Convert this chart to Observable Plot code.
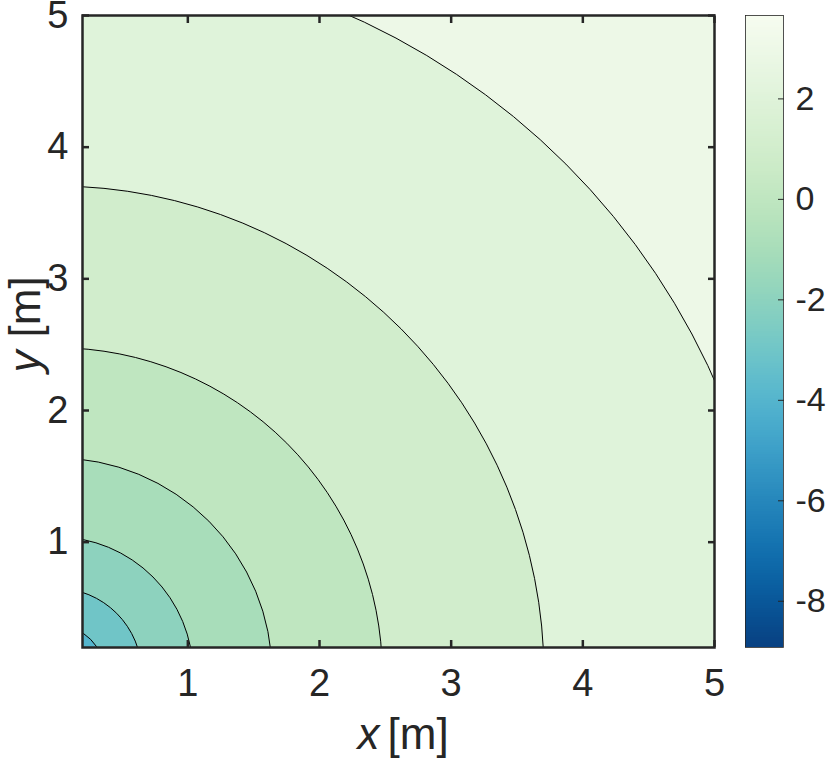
<!DOCTYPE html>
<html>
<head>
<meta charset="utf-8">
<script src="https://cdn.jsdelivr.net/npm/d3@7"></script>
<script src="https://cdn.jsdelivr.net/npm/@observablehq/plot@0.6"></script>
<style>
  body { margin: 0; background: #ffffff; }
  #chart { position: relative; width: 830px; height: 760px; background: #ffffff; }
  #chart svg { position: absolute; top: 0; overflow: visible; }
</style>
</head>
<body>
<div id="chart"></div>
<script>
// ---- data ----
const xDomain = [0.2, 5];
const yDomain = [0.2, 5];
const xTicks = [1, 2, 3, 4, 5];
const yTicks = [1, 2, 3, 4, 5];
// contour lines (circles about the origin): level value and radius [m]
const contourLevels = [3, 2, 1, 0, -1, -2, -3];
const contourRadii  = [5.475, 3.705, 2.477, 1.64, 1.04, 0.65, 0.37];
// fill value of the region just inside each contour line
const bandValues    = [2, 1, 0, -1, -2, -3, -4];
// fill value of the region outside the largest contour
const outerValue = 3;
// colour bar
const colorRange = [-8.92, 3.66];
const colorbarTicks = [-8, -6, -4, -2, 0, 2];

const ink = "#262626";
const font = "'Liberation Sans', Arial, Helvetica, sans-serif";
const colorScale = {type: "linear", scheme: "GnBu", reverse: true, domain: colorRange};

const bands = contourLevels.map((level, i) => ({level, radius: contourRadii[i], value: bandValues[i]}));
const outer = [{value: outerValue}];

const main = Plot.plot({
  width: 730,
  height: 760,
  marginLeft: 82,
  marginRight: 16,
  marginTop: 15,
  marginBottom: 113,
  style: {fontFamily: font, fontSize: "38px", color: ink, background: "transparent", overflow: "visible"},
  x: {domain: xDomain},
  y: {domain: yDomain},
  r: {type: "linear", domain: [0, xDomain[1] - xDomain[0]], range: [0, 632]},
  color: colorScale,
  marks: [
    Plot.rect(outer, {x1: () => xDomain[0], x2: () => xDomain[1], y1: () => yDomain[0], y2: () => yDomain[1], fill: "value"}),
    Plot.dot(bands, {x: () => 0, y: () => 0, r: "radius", fill: "value", stroke: "black", strokeWidth: 1, clip: true}),
    Plot.frame({stroke: ink, strokeWidth: 2.5}),
    // inward tick marks on all four sides
    Plot.axisX({ticks: xTicks, anchor: "bottom", tickSize: 7, dy: -7, tickFormat: () => "", stroke: ink, strokeWidth: 2.5, label: null}),
    Plot.axisX({ticks: xTicks, anchor: "top", tickSize: 7, dy: 7, tickFormat: () => "", stroke: ink, strokeWidth: 2.5, label: null}),
    Plot.axisY({ticks: yTicks, anchor: "left", tickSize: 7, dx: 7, tickFormat: () => "", stroke: ink, strokeWidth: 2.5, label: null}),
    Plot.axisY({ticks: yTicks, anchor: "right", tickSize: 7, dx: -7, tickFormat: () => "", stroke: ink, strokeWidth: 2.5, label: null}),
    // tick labels
    Plot.axisX({ticks: xTicks, anchor: "bottom", tickSize: 0, tickPadding: 22, tickFormat: d => String(d), label: null, fontSize: 38, fill: ink}),
    Plot.axisY({ticks: yTicks, anchor: "left", tickSize: 0, tickPadding: 14, tickFormat: d => String(d), label: null, fontSize: 38, fill: ink}),
    // axis titles
    Plot.text(["x"], {frameAnchor: "bottom", text: d => d, dx: -41, dy: 101, textAnchor: "start", lineAnchor: "bottom", fontStyle: "italic", fontSize: 44, fill: ink}),
    Plot.text(["[m]"], {frameAnchor: "bottom", text: d => d, dx: -11, dy: 101, textAnchor: "start", lineAnchor: "bottom", fontSize: 44, fill: ink}),
    Plot.text(["y"], {frameAnchor: "left", text: d => d, dx: -43, dy: 41, rotate: -90, textAnchor: "start", lineAnchor: "bottom", fontStyle: "italic", fontSize: 44, fill: ink}),
    Plot.text(["[m]"], {frameAnchor: "left", text: d => d, dx: -43, dy: 6, rotate: -90, textAnchor: "start", lineAnchor: "bottom", fontSize: 44, fill: ink})
  ]
});

// colour bar (continuous gradient drawn as thin cells)
const cbSteps = 256;
const cbStep = (colorRange[1] - colorRange[0]) / cbSteps;
const cbCells = d3.range(cbSteps).map(i => colorRange[0] + i * cbStep);

const bar = Plot.plot({
  width: 100,
  height: 760,
  marginLeft: 15,
  marginRight: 47,
  marginTop: 15,
  marginBottom: 113,
  style: {fontFamily: font, fontSize: "34px", color: ink, background: "transparent", overflow: "visible"},
  x: {domain: [0, 1], axis: null},
  y: {domain: colorRange},
  color: colorScale,
  marks: [
    Plot.rect(cbCells, {x1: () => 0, x2: () => 1, y1: d => d, y2: d => d + cbStep * 1.02, fill: d => d + cbStep / 2, shapeRendering: "crispEdges"}),
    Plot.frame({stroke: ink, strokeWidth: 0.8}),
    Plot.axisY({ticks: colorbarTicks, anchor: "right", tickSize: 6, dx: -6, tickFormat: () => "", stroke: ink, strokeWidth: 1, label: null}),
    Plot.axisY({ticks: colorbarTicks, anchor: "right", tickSize: 0, tickPadding: 12, tickFormat: d => String(d), label: null, fontSize: 34, fill: ink})
  ]
});

main.style.left = "0px";
bar.style.left = "730px";
document.getElementById("chart").append(main, bar);
</script>
</body>
</html>
